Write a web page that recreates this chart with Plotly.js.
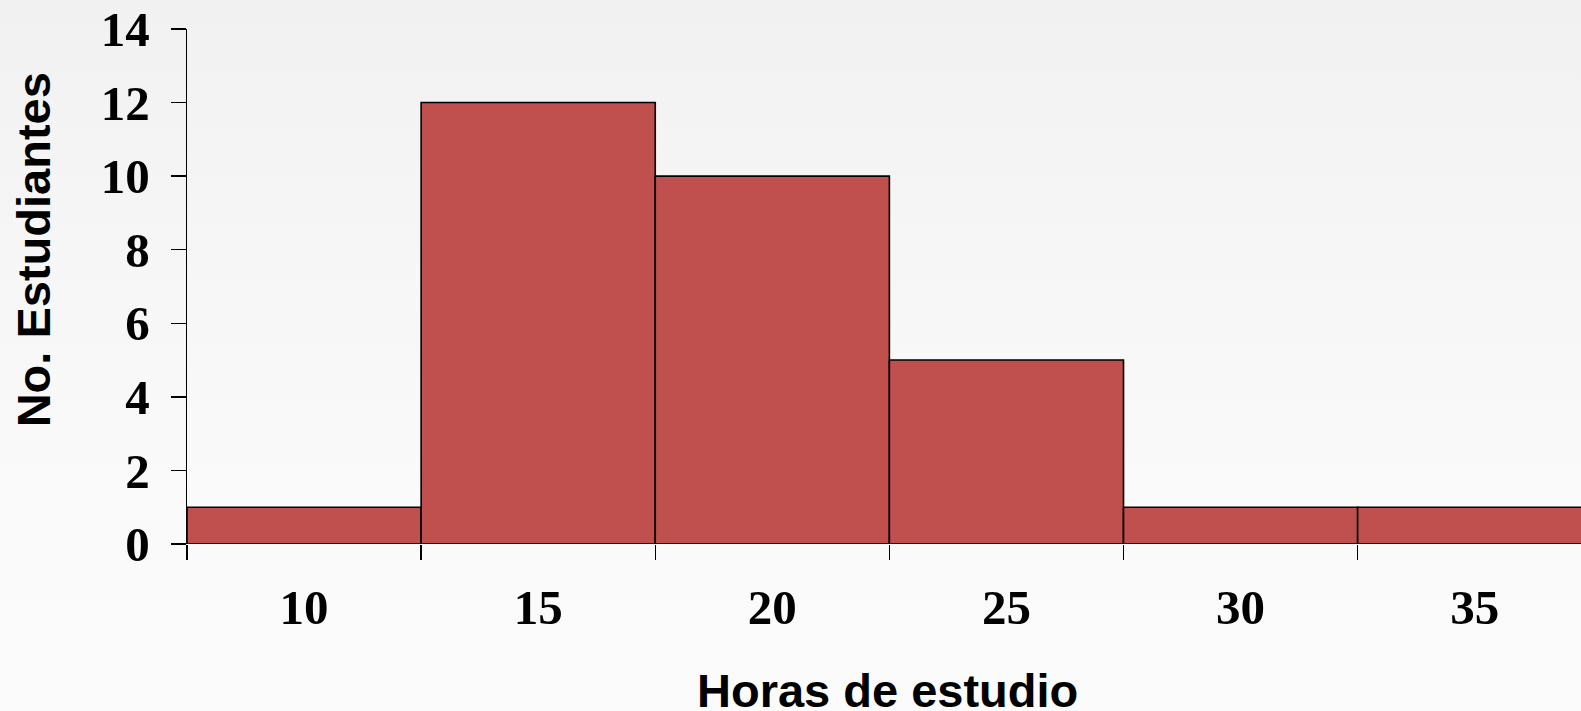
<!DOCTYPE html>
<html>
<head>
<meta charset="utf-8">
<script src="https://cdn.plot.ly/plotly-3.0.1.min.js"></script>
<style>
  html, body { margin: 0; padding: 0; }
  body { width: 1581px; height: 711px; overflow: hidden;
         background: linear-gradient(to bottom, #f1f1f1 0%, #f6f6f6 35%, #fafafa 70%, #fbfbfb 100%); }
  #chart { width: 1581px; height: 711px; }
</style>
</head>
<body>
<div id="chart"></div>
<script>
// Data
const binCenters = [10, 15, 20, 25, 30, 35];
const counts = [1, 12, 10, 5, 1, 1];
const binEdges = [7.5, 12.5, 17.5, 22.5, 27.5, 32.5, 37.5];
const xTickLabels = ["10", "15", "20", "25", "30", "35"];
const yTicks = [0, 2, 4, 6, 8, 10, 12, 14];
const xTitle = "Horas de estudio";
const yTitle = "No. Estudiantes";

const serifBold = { family: "'Liberation Serif', 'Times New Roman', serif", size: 49, color: "#000", weight: 700 };
const sansBold = { family: "'Liberation Sans', Arial, sans-serif", size: 47, color: "#000", weight: 700 };

const trace = {
  type: "bar",
  x: binCenters,
  y: counts,
  width: binCenters.map(() => 5),
  marker: { color: "#c0504d", line: { color: "#000", width: 1.6 } },
  hoverinfo: "x+y"
};

const layout = {
  width: 1581,
  height: 711,
  margin: { l: 186.5, r: 0, t: 29.3, b: 166.7 },
  paper_bgcolor: "rgba(0,0,0,0)",
  plot_bgcolor: "rgba(0,0,0,0)",
  bargap: 0,
  showlegend: false,
  xaxis: {
    range: [7.5, 37.27],
    tickmode: "array",
    tickvals: binCenters,
    ticktext: xTickLabels,
    ticks: "",
    tickfont: serifBold,
    ticklabelstandoff: 30,
    showgrid: false,
    zeroline: false,
    showline: false,
    minor: { tickmode: "array", tickvals: binEdges, ticks: "outside", ticklen: 15, tickwidth: 1.5, tickcolor: "#000", showgrid: false }
  },
  yaxis: {
    range: [0, 14],
    tickmode: "array",
    tickvals: yTicks,
    ticks: "outside",
    ticklen: 15,
    tickwidth: 1.5,
    tickcolor: "#000",
    tickfont: serifBold,
    ticklabelstandoff: 11,
    showline: true,
    linecolor: "#000",
    linewidth: 1.5,
    showgrid: false,
    zeroline: false
  },
  annotations: [
    { text: xTitle, xref: "paper", yref: "paper", x: 0.5025, y: -0.285, xanchor: "center", yanchor: "middle",
      showarrow: false, font: sansBold },
    { text: yTitle, xref: "paper", yref: "paper", x: -0.110, y: 0.5715, xanchor: "center", yanchor: "middle",
      textangle: -90, showarrow: false, font: sansBold }
  ]
};

Plotly.newPlot("chart", [trace], layout, { displayModeBar: false, staticPlot: true });
</script>
</body>
</html>
